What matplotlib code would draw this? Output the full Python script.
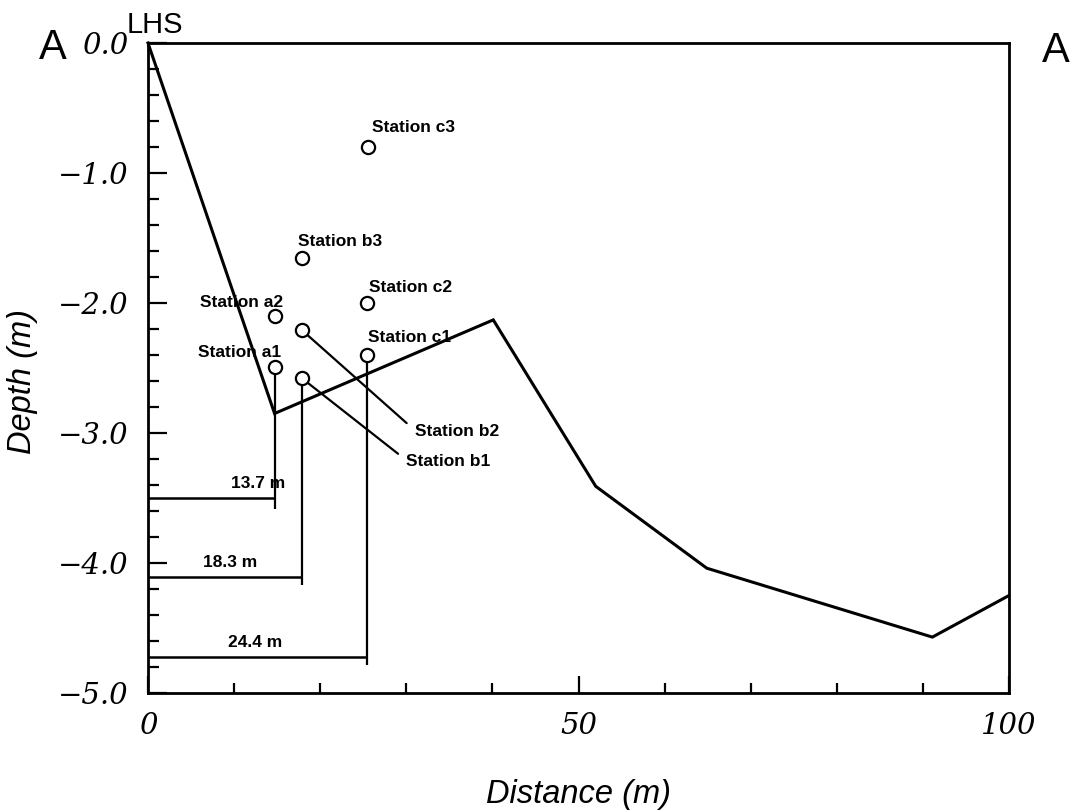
import matplotlib
matplotlib.use("Agg")
import matplotlib.pyplot as plt
from matplotlib.ticker import MultipleLocator, FixedLocator

# ---------------- data ----------------
profile_x = [0.0, 14.7, 40.1, 52.0, 64.9, 91.1, 100.0]
profile_y = [0.0, -2.85, -2.13, -3.41, -4.04, -4.57, -4.25]

station_names = ["a1", "a2", "b1", "b2", "b3", "c1", "c2", "c3"]
station_x = [14.7, 14.7, 17.9, 17.9, 17.9, 25.4, 25.4, 25.5]
station_y = [-2.49, -2.10, -2.58, -2.21, -1.65, -2.40, -2.00, -0.80]

dim_labels = ["13.7 m", "18.3 m", "24.4 m"]
dim_x = [14.7, 17.9, 25.4]          # column positions in the drawing
dim_top = [-2.49, -2.58, -2.40]     # lowest station in each column
dim_level = [-3.50, -4.11, -4.72]   # depth of the horizontal dimension line
dim_end = [-3.585, -4.17, -4.785]   # bottom end of the vertical line
dim_label_x = [12.8, 9.5, 12.5]     # centre of each dimension label

yticks = [0.0, -1.0, -2.0, -3.0, -4.0, -5.0]
ytick_labels = ["0.0", "\u22121.0", "\u22122.0", "\u22123.0", "\u22124.0", "\u22125.0"]
xticks = [0, 50, 100]
xtick_labels = ["0", "50", "100"]

SANS = ["Liberation Sans", "DejaVu Sans"]

# ---------------- figure ----------------
fig = plt.figure(figsize=(10.76, 8.10), dpi=100)
ax = fig.add_axes([148/1076, 1 - 693/810, (1009-148)/1076, (693-43)/810])

ax.set_xlim(0, 100)
ax.set_ylim(-5, 0)

for s in ax.spines.values():
    s.set_linewidth(2.0)

ax.plot(profile_x, profile_y, color="black", lw=2.2, clip_on=False,
        solid_joinstyle="miter")

# dimension lines
for lab, x, top, lev, end, lx in zip(dim_labels, dim_x, dim_top, dim_level,
                                     dim_end, dim_label_x):
    ax.plot([x, x], [top, end], color="black", lw=1.6, solid_capstyle="butt")
    ax.plot([0, x], [lev, lev], color="black", lw=1.8, solid_capstyle="butt",
            clip_on=False)
    ax.annotate(lab, (lx, lev), xytext=(0, 5), textcoords="offset points",
                ha="center", va="bottom", fontsize=12.5, fontweight="bold",
                family=SANS)

# station markers
ax.plot(station_x, station_y, linestyle="none", marker="o", ms=9.5,
        mfc="white", mec="black", mew=1.6, zorder=5, clip_on=False)

# station labels (offsets in points relative to each station)
label_off = {
    "c3": (3, 11, "left"),
    "b3": (-3, 8, "left"),
    "c2": (2, 8, "left"),
    "c1": (1, 9, "left"),
    "a2": (6, 6.5, "right"),
    "a1": (4.5, 7, "right"),
}
for n, x, y in zip(station_names, station_x, station_y):
    if n in label_off:
        dx, dy, ha = label_off[n]
        ax.annotate("Station " + n, (x, y), xytext=(dx, dy),
                    textcoords="offset points", ha=ha, va="baseline",
                    fontsize=12.5, fontweight="bold", family=SANS)

leader_off = {"b2": (81, -73), "b1": (75, -60)}
for n, x, y in zip(station_names, station_x, station_y):
    if n in leader_off:
        dx, dy = leader_off[n]
        ax.annotate("Station " + n, (x, y), xytext=(dx, dy),
                    textcoords="offset points", ha="left", va="center",
                    fontsize=12.5, fontweight="bold", family=SANS,
                    arrowprops=dict(arrowstyle="-", color="black", lw=1.6,
                                    shrinkA=5, shrinkB=5, relpos=(0, 0.6)))

# ticks
ax.yaxis.set_major_locator(FixedLocator(yticks))
ax.yaxis.set_minor_locator(MultipleLocator(0.2))
ax.set_yticklabels(ytick_labels)
ax.xaxis.set_major_locator(FixedLocator(xticks))
ax.xaxis.set_minor_locator(MultipleLocator(10))
ax.set_xticklabels(xtick_labels)

ax.tick_params(axis="y", which="major", direction="in", length=14, width=1.6,
               pad=14, labelsize=21)
ax.tick_params(axis="y", which="minor", direction="in", length=8, width=1.6)
ax.tick_params(axis="x", which="major", direction="in", length=12, width=1.6,
               pad=14, labelsize=21)
ax.tick_params(axis="x", which="minor", direction="in", length=7, width=1.6)
ax.tick_params(top=False, right=False, which="both")
for t in ax.get_xticklabels() + ax.get_yticklabels():
    t.set_family(["DejaVu Serif"])
    t.set_style("italic")

ax.set_xlabel("Distance (m)", fontsize=23.5, style="italic", family=SANS)
ax.set_ylabel("Depth (m)", fontsize=23.5, style="italic", family=SANS)
ax.xaxis.set_label_coords(0.5, -0.132)
ax.yaxis.set_label_coords(-0.128, 0.48)

# corner annotations
fig.text(53/1076, 1 - 48/810, "A", fontsize=30, ha="center", va="center",
         family=SANS)
fig.text(1056/1076, 1 - 51/810, "A", fontsize=30, ha="center", va="center",
         family=SANS)
fig.text(155/1076, 1 - 25/810, "LHS", fontsize=21, ha="center", va="center",
         family=SANS)

fig.savefig("out.png", dpi=100)
